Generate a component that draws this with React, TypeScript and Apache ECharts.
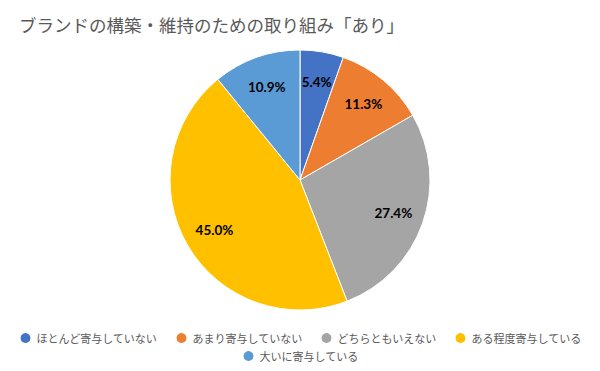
import React, { useEffect, useRef } from "react";
import * as echarts from "echarts";

const titleText = "ブランドの構築・維持のための取り組み「あり」";
const categories = [
  "ほとんど寄与していない",
  "あまり寄与していない",
  "どちらともいえない",
  "ある程度寄与している",
  "大いに寄与している",
];
const values = [5.4, 11.3, 27.4, 45.0, 10.9];
const colors = ["#4472C4", "#ED7D31", "#A5A5A5", "#FFC000", "#5B9BD5"];

export default function App() {
  const ref = useRef<HTMLDivElement>(null);
  useEffect(() => {
    if (!ref.current) return;
    const chart = echarts.init(ref.current, null, { renderer: "svg" });
    const data = categories.map((name, i) => ({ name, value: values[i] }));
    const legendText = {
      fontSize: 11,
      color: "#595959",
      fontFamily: "Noto Sans CJK JP",
    };
    chart.setOption({
      animation: false,
      color: colors,
      title: {
        text: titleText,
        left: 14,
        top: 11,
        textStyle: {
          fontSize: 17.5,
          fontWeight: "normal",
          color: "#595959",
          fontFamily: "Noto Sans CJK JP",
        },
      },
      legend: [
        {
          data: categories.slice(0, 4),
          left: "center",
          top: 326,
          icon: "circle",
          itemWidth: 12,
          itemHeight: 12,
          itemGap: 17,
          textStyle: legendText,
        },
        {
          data: categories.slice(4),
          left: "center",
          top: 344,
          icon: "circle",
          itemWidth: 12,
          itemHeight: 12,
          itemGap: 17,
          textStyle: legendText,
        },
      ],
      series: [
        {
          type: "pie",
          center: [300, 180],
          radius: [0, 130],
          startAngle: 90,
          clockwise: true,
          data,
          label: { show: false },
          labelLine: { show: false },
          itemStyle: { borderColor: "#ffffff", borderWidth: 1 },
          emphasis: { disabled: true },
        },
        {
          type: "pie",
          center: [300, 180],
          radius: [62, 130],
          startAngle: 90,
          clockwise: true,
          silent: true,
          data,
          itemStyle: { color: "rgba(0,0,0,0)" },
          label: {
            show: true,
            position: "inside",
            formatter: (p: any) => p.value.toFixed(1) + "%",
            fontFamily: "Lato",
            fontWeight: "bold",
            fontSize: 13.5,
            color: "#000000",
          },
          labelLine: { show: false },
          emphasis: { disabled: true },
        },
      ],
    });
    return () => chart.dispose();
  }, []);
  return (
    <div
      ref={ref}
      style={{ position: "absolute", left: 0, top: 0, width: 600, height: 371 }}
    />
  );
}
